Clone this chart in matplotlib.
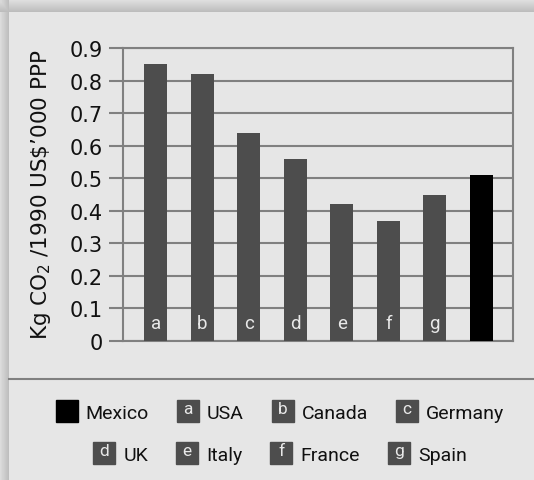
import numpy as np
import matplotlib
matplotlib.use("Agg")
from matplotlib import pyplot as plt
from matplotlib.patches import Rectangle
from matplotlib.lines import Line2D

plt.rcParams['font.family'] = ['Roboto', 'DejaVu Sans']
plt.rcParams['mathtext.fontset'] = 'custom'
plt.rcParams['mathtext.rm'] = 'DejaVu Sans'

# data
countries = ["USA", "Canada", "Germany", "UK", "Italy", "France", "Spain", "Mexico"]
letters = ["a", "b", "c", "d", "e", "f", "g", ""]
values = [0.85, 0.82, 0.64, 0.56, 0.42, 0.37, 0.45, 0.51]
yticks = [0, 0.1, 0.2, 0.3, 0.4, 0.5, 0.6, 0.7, 0.8, 0.9]
ytick_labels = ["0", "0.1", "0.2", "0.3", "0.4", "0.5", "0.6", "0.7", "0.8", "0.9"]
ylabel = "Kg CO$_\\mathrm{2}$ /1990 US\\$\u2019000 PPP"
legend_rows = [["Mexico", "USA", "Canada", "Germany"],
               ["UK", "Italy", "France", "Spain"]]

W, H = 534, 481
panel = 0.902
grey = "#808080"
dark = "#4d4d4d"
wide = ["DejaVu Sans"]

fig = plt.figure(figsize=(W / 100, H / 100), dpi=100)

# background panel with a soft shadow on the left and top
bg = fig.add_axes([0, 0, 1, 1])
bg.axis("off")
img = np.full((H, W), panel)
sx, sy = 9, 13
xs = np.arange(sx) / sx
ys = np.arange(sy) / sy
img[:, :sx] = (0.86 - 0.13 * xs)[None, :]
img[:sy, :] = np.minimum(img[:sy, :], (0.88 - 0.15 * ys)[:, None])
img[:sy, :sx] = np.minimum(img[:sy, :sx], 0.85)
bg.imshow(img, cmap="gray", vmin=0, vmax=1, aspect="auto",
          extent=[0, 1, 0, 1], interpolation="nearest")
bg.set_xlim(0, 1)
bg.set_ylim(0, 1)

# separator above the legend
fig.add_artist(Line2D([sx / W, 1], [1 - 380 / H] * 2, color=grey, lw=1.5))

# chart
ax = fig.add_axes([122.6 / W, 1 - 342 / H, (513 - 122.6) / W, (342 - 49) / H])
ax.set_facecolor("none")
x = np.arange(len(countries))
colors = [dark] * (len(countries) - 1) + ["black"]
ax.bar(x, values, width=0.5, color=colors, zorder=3)
for xi, lt in zip(x, letters):
    if lt:
        ax.text(xi, 0.039, lt, ha="center", va="baseline", color="#e8e8e8",
                fontsize=13.5, zorder=4)
ax.set_xlim(-0.71, 7.68)
ax.set_ylim(0, 0.9)
ax.set_yticks(yticks)
ax.set_yticklabels(ytick_labels, fontsize=15, color="#111111", family=wide)
ax.set_xticks([])
ax.yaxis.grid(True, color=grey, lw=1.5, zorder=1)
for s in ax.spines.values():
    s.set_color(grey)
    s.set_linewidth(1.5)
ax.tick_params(axis="y", length=10, width=1.5, color=grey, pad=4.5)

fig.text(41 / W, 1 - 195 / H, ylabel, rotation=90, ha="center", va="center",
         fontsize=15.5, color="#111111", family=wide)

# legend, laid out as centred rows
renderer = fig.canvas.get_renderer()
box = 22
gap_bt = 8
gap_items = 28
row_y = [412, 454]
cx = 280
for r, names in enumerate(legend_rows):
    texts = []
    widths = []
    for name in names:
        t = fig.text(0, 0, name, fontsize=14, color="#111111", va="center")
        texts.append(t)
        widths.append(t.get_window_extent(renderer).width)
    total = sum(box + gap_bt + w for w in widths) + gap_items * (len(names) - 1)
    px = cx - total / 2
    yc = row_y[r]
    for name, t, w in zip(names, texts, widths):
        i = countries.index(name)
        c = colors[i]
        fig.add_artist(Rectangle((px / W, 1 - (yc + box / 2) / H), box / W, box / H,
                                 transform=fig.transFigure, color=c))
        if letters[i]:
            fig.text((px + box / 2) / W, 1 - (yc - box / 2 + 1) / H, letters[i],
                     fontsize=12.5, color="#e8e8e8", ha="center", va="top")
        t.set_position(((px + box + gap_bt) / W, 1 - (yc + 2) / H))
        px += box + gap_bt + w + gap_items

fig.savefig("out.png", dpi=100)
